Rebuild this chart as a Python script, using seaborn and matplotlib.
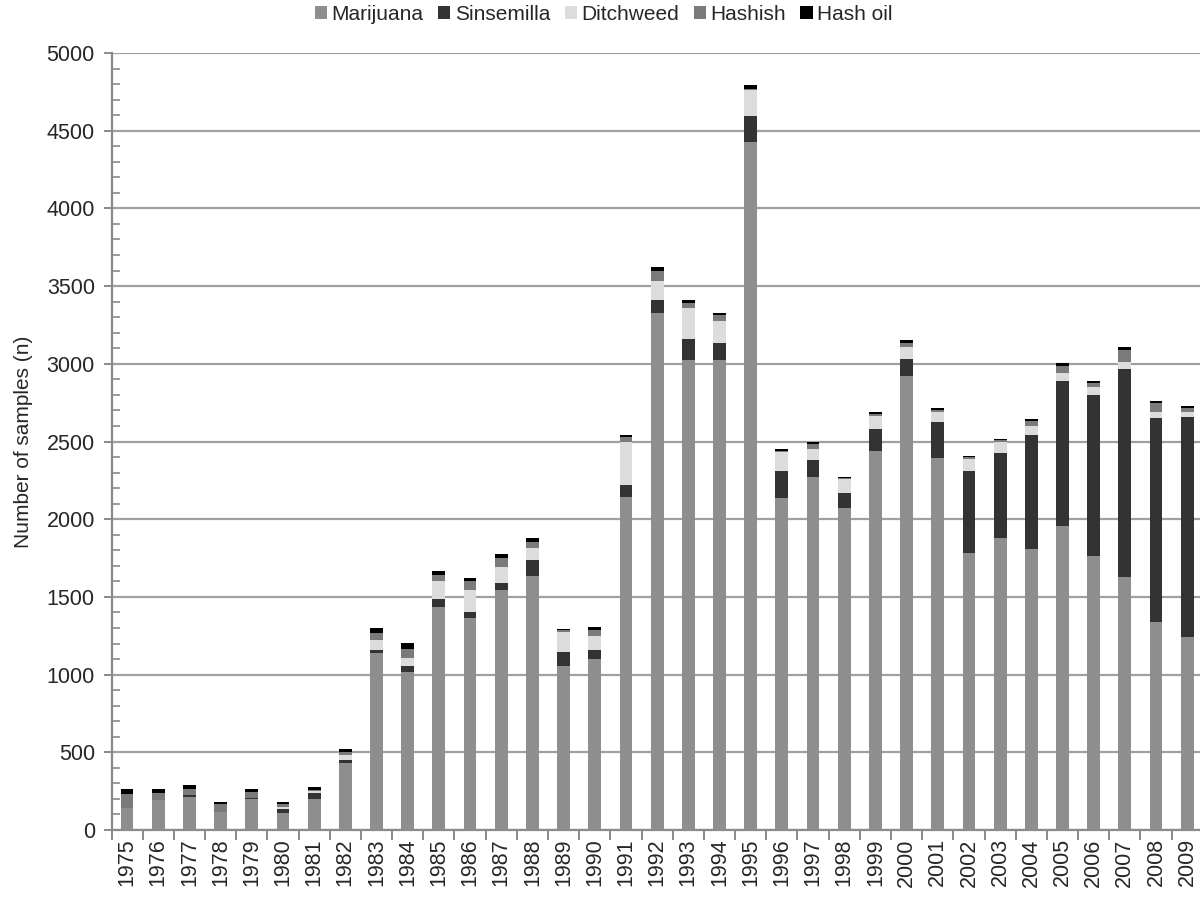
import numpy as np
import pandas as pd
import matplotlib
matplotlib.use("Agg")
import matplotlib.pyplot as plt
from matplotlib.patches import Patch
from matplotlib.ticker import MultipleLocator, FixedLocator
import seaborn as sns

years = [str(y) for y in range(1975, 2010)]
marijuana = [142, 190, 212, 118, 198, 112, 200, 430, 1140, 1015, 1437, 1362, 1544, 1634, 1057, 1098,
             2145, 3325, 3024, 3024, 4429, 2139, 2270, 2070, 2441, 2924, 2392, 1785, 1881, 1808,
             1956, 1765, 1626, 1338, 1240]
sinsemilla = [0, 0, 12, 0, 10, 26, 35, 20, 21, 43, 49, 39, 43, 101, 90, 60, 75, 86, 133, 111,
              165, 172, 112, 101, 139, 107, 236, 526, 543, 731, 935, 1034, 1340, 1315, 1420]
ditchweed = [0, 0, 0, 0, 0, 10, 15, 30, 60, 51, 116, 144, 107, 82, 129, 90, 279, 124, 199, 140,
             167, 120, 69, 87, 84, 75, 64, 77, 75, 62, 51, 49, 47, 34, 32]
hashish = [90, 50, 42, 50, 37, 18, 8, 25, 47, 54, 39, 58, 54, 39, 10, 39, 28, 64, 36, 36,
           10, 10, 32, 6, 14, 30, 13, 13, 10, 31, 47, 30, 75, 58, 26]
hash_oil = [35, 22, 22, 15, 17, 16, 17, 14, 32, 39, 28, 17, 28, 21, 8, 21, 15, 26, 17, 14,
            20, 9, 13, 10, 10, 17, 8, 8, 7, 10, 13, 13, 21, 17, 10]

series_names = ["Marijuana", "Sinsemilla", "Ditchweed", "Hashish", "Hash oil"]
series_colors = ["#8e8e8e", "#333333", "#dcdcdc", "#7a7a7a", "#000000"]

df = pd.DataFrame({
    "year": years,
    "Marijuana": marijuana,
    "Sinsemilla": sinsemilla,
    "Ditchweed": ditchweed,
    "Hashish": hashish,
    "Hash oil": hash_oil,
})

sns.set_theme(style="white")
plt.rcParams["font.family"] = ["Liberation Sans", "DejaVu Sans"]

fig = plt.figure(figsize=(12, 8.98), dpi=100)
ax = fig.add_axes([111.5 / 1200, 68 / 898, 1091.3 / 1200, 777 / 898])

# stacked bars: draw cumulative totals from the top layer down
cum = df[series_names].cumsum(axis=1)
for name, color in reversed(list(zip(series_names, series_colors))):
    sns.barplot(x=df["year"], y=cum[name], color=color, width=0.41,
                errorbar=None, saturation=1, ax=ax, zorder=3,
                linewidth=0, edgecolor="none")

ax.set_xlim(-0.5, len(years) - 0.5)
ax.set_ylim(0, 5000)
ax.yaxis.set_major_locator(MultipleLocator(500))
ax.yaxis.set_minor_locator(MultipleLocator(100))
ax.grid(axis="y", which="major", color="#a0a0a0", linewidth=1.6, zorder=0)
ax.grid(axis="x", visible=False)

for side in ["top", "right"]:
    ax.spines[side].set_visible(False)
for side in ["left", "bottom"]:
    ax.spines[side].set_color("#8a8a8a")
    ax.spines[side].set_linewidth(1.6)

ax.tick_params(axis="y", which="major", direction="out", length=6, width=1.4,
               color="#8a8a8a", labelsize=15.5, pad=6, left=True)
ax.tick_params(axis="y", which="minor", direction="in", length=6, width=1.2,
               color="#8a8a8a", left=True)

# x tick marks at category boundaries, labels at the bar centres
ax.set_xticks(range(len(years)))
ax.set_xticklabels(years, rotation=90, fontsize=15.5)
ax.tick_params(axis="x", which="major", length=0, pad=6)
ax.xaxis.set_minor_locator(FixedLocator(np.arange(-0.5, len(years), 1.0)))
ax.tick_params(axis="x", which="minor", direction="out", length=7, width=1.4,
               color="#8a8a8a", bottom=True)

ax.set_xlabel("")
ax.set_ylabel("Number of samples (n)", fontsize=15, labelpad=10)

handles = [Patch(facecolor=c, edgecolor="none", label=n)
           for n, c in zip(series_names, series_colors)]
fig.legend(handles=handles, loc="center", bbox_to_anchor=(0.503, 1 - 14 / 898),
           ncol=5, frameon=False, fontsize=15, handlelength=0.6, handleheight=0.6,
           handletextpad=0.2, columnspacing=0.7, borderaxespad=0)

fig.savefig("out.png", dpi=100)
